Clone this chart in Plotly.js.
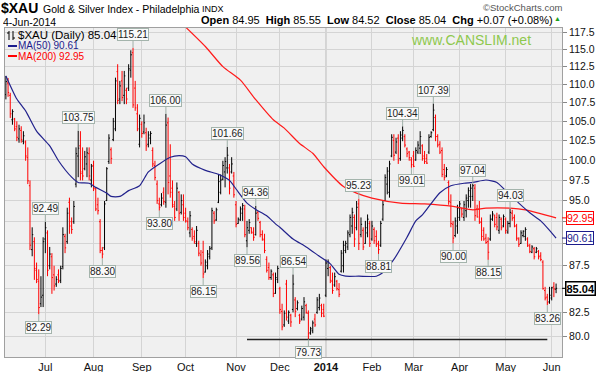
<!DOCTYPE html>
<html><head><meta charset="utf-8">
<script src="https://cdn.plot.ly/plotly-3.0.1.min.js"></script>
<style>html,body{margin:0;padding:0;background:#fff}#chart{width:598px;height:372px}</style>
</head><body><div id="chart"></div>
<script>
// trading days per month (Jun 2013 - Jun 2014)
const jun13=[5,6,7,10,11,12,13,14,17,18,19,20,21,24,25,26,27,28];
const jul13=[1,2,3,5,8,9,10,11,12,15,16,17,18,19,22,23,24,25,26,29,30,31];
const aug13=[1,2,5,6,7,8,9,12,13,14,15,16,19,20,21,22,23,26,27,28,29,30];
const sep13=[3,4,5,6,9,10,11,12,13,16,17,18,19,20,23,24,25,26,27,30];
const oct13=[1,2,3,4,7,8,9,10,11,14,15,16,17,18,21,22,23,24,25,28,29,30,31];
const nov13=[1,4,5,6,7,8,11,12,13,14,15,18,19,20,21,22,25,26,27,29];
const dec13=[2,3,4,5,6,9,10,11,12,13,16,17,18,19,20,23,24,26,27,30,31];
const jan14=[2,3,6,7,8,9,10,13,14,15,16,17,21,22,23,24,27,28,29,30,31];
const feb14=[3,4,5,6,7,10,11,12,13,14,18,19,20,21,24,25,26,27,28];
const mar14=[3,4,5,6,7,10,11,12,13,14,17,18,19,20,21,24,25,26,27,28,31];
const apr14=[1,2,3,4,7,8,9,10,11,14,15,16,17,21,22,23,24,25,28,29,30];
const may14=[1,2,5,6,7,8,9,12,13,14,15,16,19,20,21,22,23,27,28,29,30];
const jun14=[2,3,4];

const open=[108.6,110.2,108.5,105.2,105.3,104.3,102.7,103.8,102.4,102.3,
100.3,96.8,89.3,90.2,87.0,85.8,83.4,84.3,90.5,91.2,
87.5,88.5,86.5,85.5,86.5,85.9,87.4,90.8,90.2,94.8,
92.5,92.5,97.0,100.5,101.8,98.5,98.9,99.5,100.8,97.5,
99.3,96.4,94.5,92.5,89.2,89.5,95.0,99.8,101.3,102.6,
104.0,111.8,108.0,110.5,108.5,109.2,109.5,112.0,114.5,109.5,
106.0,102.0,104.6,103.6,103.5,102.0,102.8,101.2,99.3,97.0,
94.6,94.5,96.0,94.8,104.8,98.0,96.5,94.3,94.0,96.0,
93.6,94.5,93.5,92.5,91.2,91.6,90.8,90.0,90.0,88.7,
89.0,86.8,87.5,88.5,89.5,93.5,92.7,94.8,96.0,97.6,
98.5,99.0,99.0,98.5,98.0,94.5,92.3,92.7,93.5,94.0,
90.3,91.5,91.8,91.2,91.0,93.6,92.4,91.0,90.4,88.2,
87.3,86.2,86.5,84.5,86.0,85.0,82.6,81.2,85.5,81.6,
82.2,82.8,83.8,82.9,82.2,81.8,82.0,83.2,82.4,80.4,
80.6,81.8,82.5,83.0,83.2,82.8,84.3,87.2,87.3,85.8,
85.4,85.8,84.9,86.9,87.5,89.2,89.6,91.0,92.0,93.0,
91.8,94.6,91.0,91.5,90.0,91.2,92.3,90.5,91.6,90.8,
90.0,89.8,92.8,95.0,97.0,96.0,100.5,102.5,101.0,102.8,
100.2,102.8,103.0,101.4,101.0,100.0,100.5,100.0,101.0,101.5,
101.8,100.5,100.2,101.0,103.0,103.9,105.5,103.0,102.0,101.2,
98.8,98.0,97.2,94.8,92.2,90.9,92.0,93.0,94.0,93.0,
93.8,95.0,95.5,95.5,96.5,94.0,94.0,92.4,91.5,90.6,
90.2,90.5,92.8,93.2,93.0,91.5,92.8,92.0,92.8,91.3,
92.3,93.5,93.0,92.0,90.5,90.0,90.9,90.8,90.5,89.7,
89.0,89.4,89.0,89.1,88.6,87.9,84.8,84.1,83.6,84.0,85.2,84.95];
const high=[111.2,110.9,108.85,106.6,105.45,105.0,104.55,104.35,103.7,102.5,
101.6,97.45,91.85,90.7,87.85,87.1,86.35,90.7,92.49,91.5,
89.6,88.9,87.5,86.35,87.1,87.5,91.85,91.1,94.15,95.35,
93.0,94.95,101.6,103.75,103.7,101.6,101.15,101.6,101.6,99.5,
99.9,96.6,95.35,92.8,89.6,94.95,99.1,103.3,101.6,105.45,
110.95,112.85,110.5,111.9,111.9,109.55,112.85,114.85,115.21,110.5,
107.3,105.9,105.0,105.9,104.15,103.7,103.7,101.6,99.9,97.45,
95.35,95.9,96.6,106.0,105.5,102.0,97.45,94.95,97.2,96.15,
95.75,95.75,94.15,93.0,93.75,91.85,91.5,92.0,90.3,89.25,
90.3,88.2,89.25,89.7,94.15,93.75,94.15,98.2,98.2,99.9,
100.35,101.66,99.5,100.35,98.5,94.95,93.0,94.3,94.7,94.5,
92.6,92.8,91.85,91.85,94.36,93.75,92.6,91.5,91.1,88.55,
87.85,87.1,86.75,86.75,87.5,85.2,83.4,82.7,85.95,82.7,
82.35,86.54,84.1,83.75,82.35,83.2,84.1,83.4,82.7,81.0,
81.65,82.35,84.1,84.45,83.4,83.4,88.2,88.2,87.5,86.75,
86.75,85.95,85.6,89.25,90.3,90.3,91.5,93.35,94.15,93.35,
94.95,95.23,93.0,91.85,92.6,93.35,92.6,92.6,91.85,91.5,
90.3,92.6,94.95,98.2,99.1,99.9,103.3,103.3,102.85,103.3,
103.7,104.34,103.3,101.6,101.15,100.35,101.15,101.6,102.4,103.7,
102.0,101.15,100.75,103.3,103.7,107.39,105.9,103.3,102.4,101.6,
99.5,99.1,97.45,95.75,92.6,93.0,94.5,94.95,94.15,94.95,
95.75,96.6,97.0,97.04,97.0,94.5,94.95,93.0,91.85,91.1,
90.7,93.35,93.75,93.35,93.55,93.35,93.0,93.35,93.0,92.6,
94.03,93.9,93.35,92.25,90.7,91.5,91.5,91.85,90.7,89.95,
89.8,89.6,89.6,89.25,89.0,88.1,85.2,84.45,85.2,85.2,85.7,85.55];
const low=[107.95,108.3,105.45,104.55,103.7,102.4,102.2,102.2,102.0,99.9,
97.0,89.25,88.55,85.95,85.6,82.29,83.05,83.05,88.9,86.35,
87.1,84.45,84.8,85.2,85.6,85.6,87.1,88.9,89.95,91.1,
91.1,92.25,96.6,97.85,97.45,97.45,98.7,97.85,97.45,96.6,
96.15,93.75,93.35,88.9,88.30,89.25,94.95,99.5,99.5,102.4,
103.7,107.3,107.3,107.7,107.3,107.3,109.1,110.95,106.8,106.4,
103.7,101.6,102.85,103.3,101.15,101.6,102.0,99.1,97.45,94.6,
93.8,94.3,94.5,94.15,95.75,95.35,94.15,92.6,93.75,92.6,
93.35,92.6,92.4,91.5,90.7,90.3,89.95,89.6,88.55,87.5,
86.15,86.75,87.1,88.2,89.25,92.25,92.6,94.7,95.75,97.45,
96.6,98.3,95.75,98.3,95.35,91.85,92.25,92.6,92.6,90.7,
89.56,91.1,91.1,90.3,90.9,92.6,90.7,90.3,88.9,86.75,
85.95,85.95,84.1,84.45,85.6,82.35,80.65,81.0,81.65,81.3,
81.0,82.5,82.0,82.7,81.3,81.65,81.65,82.35,79.73,80.2,
80.35,81.0,82.35,82.7,82.0,82.0,84.1,86.35,85.6,84.45,
85.2,84.8,84.1,86.75,86.75,88.9,89.25,90.7,91.1,89.6,
91.5,89.25,90.7,89.25,89.95,90.7,89.6,90.3,89.95,89.6,
88.81,89.6,92.6,94.95,95.75,95.35,100.35,99.9,100.75,99.5,
99.9,102.4,101.6,100.35,99.9,99.01,99.1,99.9,100.75,100.75,
99.9,99.5,99.5,100.75,102.85,103.7,102.4,101.6,100.75,97.85,
97.45,97.85,94.5,91.85,90.0,90.7,91.1,92.6,93.0,92.6,
93.0,94.15,94.15,94.95,92.6,93.0,92.25,90.3,90.3,89.95,
88.15,90.3,92.6,91.85,91.5,91.1,91.5,91.85,91.1,91.1,
91.85,92.6,91.85,90.3,89.6,89.95,90.7,90.3,89.6,88.9,
88.9,88.2,88.9,88.2,88.0,84.9,83.75,83.26,83.4,83.75,84.1,84.52];
const close=[110.4,108.9,106.0,106.3,104.0,102.9,104.0,102.6,103.1,100.5,
97.4,89.8,91.0,87.2,86.0,83.0,84.1,90.2,91.8,87.0,
88.8,86.2,85.3,86.0,85.8,87.2,91.0,89.5,93.5,92.0,
91.6,94.3,100.8,101.5,98.3,98.0,100.4,100.9,98.0,99.2,
96.5,94.0,93.8,89.2,88.8,94.6,98.9,102.8,100.2,105.0,
110.5,107.8,109.8,108.2,111.2,108.0,112.2,114.2,107.2,106.8,
104.0,105.4,103.4,104.8,101.8,103.2,103.4,99.5,97.8,95.0,
94.2,95.3,94.9,104.5,97.2,96.0,94.5,93.0,96.5,93.5,
95.0,93.0,92.6,91.8,93.2,90.6,90.2,91.5,88.9,87.8,
86.6,87.9,88.8,89.4,93.8,92.6,93.9,97.3,97.5,99.3,
99.8,100.6,96.5,99.5,95.7,92.2,92.8,94.0,94.4,91.0,
91.8,92.4,91.3,90.7,93.5,92.9,91.0,90.5,89.2,87.0,
86.2,86.9,84.5,86.2,87.2,82.8,81.0,82.4,82.0,82.5,
81.5,85.5,82.6,83.5,81.6,82.9,83.6,82.5,80.3,80.8,
81.4,81.2,83.8,84.0,82.4,82.1,87.8,87.9,85.9,84.8,
86.3,85.0,84.4,88.9,89.8,90.0,91.2,93.0,93.6,90.5,
94.2,90.0,92.2,89.6,91.8,92.8,90.0,92.0,90.3,89.9,
89.3,92.3,94.5,97.8,98.6,99.5,102.9,100.6,102.3,100.0,
103.2,103.8,101.9,100.8,100.3,99.4,99.2,101.2,101.9,103.0,
100.2,99.8,99.6,102.9,103.5,106.5,103.0,101.9,101.0,98.2,
97.8,98.8,94.9,92.3,90.6,92.6,94.1,94.6,93.4,94.5,
95.3,96.2,96.5,96.8,93.2,93.05,92.5,90.8,90.5,90.1,
89.0,92.8,93.4,92.2,91.9,93.0,91.8,93.1,91.5,92.3,
93.6,92.9,92.0,90.6,89.9,91.2,91.4,91.6,89.8,89.1,
89.6,88.5,89.4,88.5,88.2,85.0,84.0,83.5,84.3,85.1,84.97,85.04];

// moving averages (trading-day index, value)
const ma50At=[0,5,9,14,20,24,30,33,38,41,46,48,52,56,61,65,70,75,79,82,85,91,97,102,105,110,114,119,123,125,131,137,143,148,152,155,161,169,172,177,183,187,190,193,198,203,209,213,219,224,228,234,239,244,248,251];
const ma50Val=[111.2,108.0,106.4,103.7,101.8,99.9,97.85,97.2,97.1,96.6,95.9,95.5,95.5,96.2,96.8,98.5,99.5,100.35,100.55,100.4,99.5,98.7,98.2,97.45,96.4,94.7,93.95,93.2,92.25,91.85,90.5,89.6,88.55,87.7,86.55,86.35,86.35,86.35,86.75,88.2,90.7,92.6,93.3,94.3,95.95,96.8,97.1,97.2,97.5,97.2,96.2,94.7,93.55,92.6,91.5,90.61];
const ma200At=[80,91,99,107,114,122,127,134,140,145,154,160,167,180,191,204,213,219,230,237,243,249,251];
const ma200Val=[118.9,115.4,112.5,110.6,107.9,105.2,104.1,102.1,100.85,99.15,96.7,95.9,95.3,94.7,94.6,94.3,93.9,94.1,94.1,93.9,93.5,93.1,92.95];

// price call-outs
const calloutDays=[15,18,33,44,58,70,73,90,101,110,114,131,138,161,170,181,185,195,204,213,220,230,247];
const calloutVals=[82.29,92.49,103.75,88.30,115.21,93.80,106.00,86.15,101.66,89.56,94.36,86.54,79.73,95.23,88.81,104.34,99.01,107.39,90.00,97.04,88.15,94.03,83.26];
const calloutLow=[1,0,0,1,0,1,0,1,0,1,0,0,1,0,1,0,1,0,1,0,1,0,1];

const monthTickDates=['2013-07-01','2013-08-01','2013-09-03','2013-10-01','2013-11-01','2013-12-02','2014-01-02','2014-02-03','2014-03-03','2014-04-01','2014-05-01','2014-06-02'];
const monthTickText=['Jul','Aug','Sep','Oct','Nov','Dec','<b>2014</b>','Feb','Mar','Apr','May','Jun'];
const priceTicks=[80,82.5,85,87.5,90,92.5,95,97.5,100,102.5,105,107.5,110,112.5,115,117.5];
const hiddenTickLabels=[85,90,92.5]; // covered by the value tags in the reference
const supportLevel=79.73, supportFrom='2013-11-08', supportTo='2014-05-29';
const lastClose=85.04, lastMa50=90.61, lastMa200=92.95;

// build dates
const dates=[];
[['2013-06',jun13],['2013-07',jul13],['2013-08',aug13],['2013-09',sep13],['2013-10',oct13],['2013-11',nov13],['2013-12',dec13],['2014-01',jan14],['2014-02',feb14],['2014-03',mar14],['2014-04',apr14],['2014-05',may14],['2014-06',jun14]].forEach(([m,ds])=>ds.forEach(d=>dates.push(m+'-'+String(d).padStart(2,'0'))));

const up={x:[],open:[],high:[],low:[],close:[]}, dn={x:[],open:[],high:[],low:[],close:[]};
for(let i=0;i<dates.length;i++){
  const prev=i>0?close[i-1]:open[i];
  const t=close[i]>=prev?up:dn;
  t.x.push(dates[i]);t.open.push(open[i]);t.high.push(high[i]);t.low.push(low[i]);t.close.push(close[i]);
}
const FONT='Liberation Sans, Arial, sans-serif';
function ohlc(s,col){return Object.assign({type:'ohlc',tickwidth:0.5,hoverinfo:'skip',showlegend:false,
  increasing:{line:{color:col,width:1}},decreasing:{line:{color:col,width:1}}},s);}
const traces=[
  ohlc(up,'#000000'),ohlc(dn,'#ff0000'),
  {type:'scatter',mode:'lines',x:ma200At.map(i=>dates[i]),y:ma200Val,line:{color:'#ff1a1a',width:1.2,shape:'spline',smoothing:0.6},hoverinfo:'skip',showlegend:false},
  {type:'scatter',mode:'lines',x:ma50At.map(i=>dates[i]),y:ma50Val,line:{color:'#22228c',width:1.2,shape:'spline',smoothing:0.6},hoverinfo:'skip',showlegend:false}
];

const W=598,H=372,ML=5,MR=36,MT=28,MB=15,PW=W-ML-MR,PH=H-MT-MB;
const px=x=>(x-ML)/PW, py=y=>(H-MB-y)/PH;
const ann=[];
calloutDays.forEach((d,k)=>{
  ann.push({x:dates[d],y:Math.log10(calloutVals[k]),xref:'x',yref:'y',text:calloutVals[k].toFixed(2),
    showarrow:true,arrowhead:0,arrowwidth:1,arrowcolor:'#9fb0a8',ax:0,ay:calloutLow[k]?13:-13,standoff:0,
    font:{family:FONT,size:10,color:'#222'},bgcolor:'#f9f9f9',bordercolor:'#a4b4ac',borderwidth:1,borderpad:0,height:11});
});
// right tags
[[lastMa200,'#ff0000',false],[lastMa50,'#1c1c8c',false],[lastClose,'#000000',true]].forEach(([v,c,b])=>{
  ann.push({x:1,xref:'paper',y:Math.log10(v),yref:'y',text:b?'<b>'+v.toFixed(2)+'</b>':v.toFixed(2),
    showarrow:true,arrowhead:0,arrowwidth:1,arrowcolor:c,ax:18,ay:0,standoff:0,
    font:{family:FONT,size:b?11:10.5,color:c},bgcolor:'#ffffff',bordercolor:c,borderwidth:b?1.5:1,borderpad:0,height:12});
});
function txt(t,x,y,opt){ann.push(Object.assign({text:t,x:px(x),y:py(y),xref:'paper',yref:'paper',showarrow:false,xanchor:'left',yanchor:'middle',borderpad:0,font:{family:FONT,size:11,color:'#000'}},opt||{}));}
txt('<b>$XAU</b>',0,8,{font:{family:FONT,size:14,color:'#000'},height:14});
txt('Gold & Silver Index - Philadelphia',42,9,{font:{family:FONT,size:10.5,color:'#000'}});
txt('INDX',201,9,{font:{family:FONT,size:9,color:'#000'}});
txt('4-Jun-2014',2,21,{font:{family:FONT,size:10.5,color:'#000'},height:11});
txt('<b>Open</b> 84.95 &nbsp;<b>High</b> 85.55 &nbsp;<b>Low</b> 84.52 &nbsp;<b>Close</b> 85.04 &nbsp;<b>Chg</b> +0.07 (+0.08%)',554,20,{xanchor:'right',font:{family:FONT,size:11,color:'#000'}});
txt('▲',553,19,{font:{family:FONT,size:7,color:'#1aa01a'}});
txt('©StockCharts.com',563,7,{xanchor:'right',font:{family:FONT,size:9.5,color:'#555'}});
txt('www.CANSLIM.net',471,40,{xanchor:'center',font:{family:FONT,size:14,color:'#8ec84e'}});
txt('$XAU (Daily) 85.04',17,35,{font:{family:FONT,size:11.5,color:'#000'}});
txt('MA(50) 90.61',17,46,{font:{family:FONT,size:10,color:'#1c1c8c'}});
txt('MA(200) 92.95',17,56,{font:{family:FONT,size:10,color:'#ff0000'}});

const shapes=[
  {type:'line',xref:'x',yref:'paper',x0:dates.indexOf('2014-01-02'),x1:dates.indexOf('2014-01-02'),y0:0,y1:1,line:{color:'#b0b0b0',width:1},layer:'below'},
  {type:'line',xref:'x',yref:'y',x0:dates.indexOf(supportFrom),x1:dates.indexOf(supportTo),y0:supportLevel,y1:supportLevel,line:{color:'#222',width:1.5}},
  // legend glyphs
  {type:'line',xref:'paper',yref:'paper',x0:px(9),x1:px(9),y0:py(31),y1:py(40),line:{color:'#000',width:1}},
  {type:'line',xref:'paper',yref:'paper',x0:px(13),x1:px(13),y0:py(31),y1:py(40),line:{color:'#000',width:1}},
  {type:'line',xref:'paper',yref:'paper',x0:px(7),x1:px(9),y0:py(33),y1:py(33),line:{color:'#000',width:1}},
  {type:'line',xref:'paper',yref:'paper',x0:px(13),x1:px(15),y0:py(38),y1:py(38),line:{color:'#000',width:1}},
  {type:'line',xref:'paper',yref:'paper',x0:px(8),x1:px(17),y0:py(46),y1:py(46),line:{color:'#1c1c8c',width:2}},
  {type:'line',xref:'paper',yref:'paper',x0:px(8),x1:px(17),y0:py(56),y1:py(56),line:{color:'#ff0000',width:2}}
];

const layout={width:W,height:H,margin:{l:ML,r:MR,t:MT,b:MB,pad:0},paper_bgcolor:'#ffffff',plot_bgcolor:'#f0f0f0',
  font:{family:FONT,size:11,color:'#222'},showlegend:false,
  xaxis:{type:'category',categoryorder:'array',categoryarray:dates,range:[-0.4,253.7],rangeslider:{visible:false},
    tickmode:'array',tickvals:monthTickDates,ticktext:monthTickText,showgrid:true,gridcolor:'#d4d4d4',gridwidth:1,
    ticks:'',tickfont:{family:FONT,size:11,color:'#111'},showline:true,linecolor:'#a0a0a0',mirror:true,zeroline:false,automargin:false,fixedrange:true},
  yaxis:{type:'log',side:'right',range:[Math.log10(77.976),Math.log10(118.13)],tickmode:'array',tickvals:priceTicks,
    ticktext:priceTicks.map(v=>hiddenTickLabels.includes(v)?'':v.toFixed(1)),showgrid:true,gridcolor:'#d4d4d4',ticks:'outside',ticklen:4,tickcolor:'#888',
    tickfont:{family:FONT,size:10.5,color:'#111'},showline:true,linecolor:'#a0a0a0',mirror:true,zeroline:false,automargin:false,fixedrange:true},
  annotations:ann,shapes:shapes};
Plotly.newPlot('chart',traces,layout,{displayModeBar:false,staticPlot:true});
</script></body></html>
